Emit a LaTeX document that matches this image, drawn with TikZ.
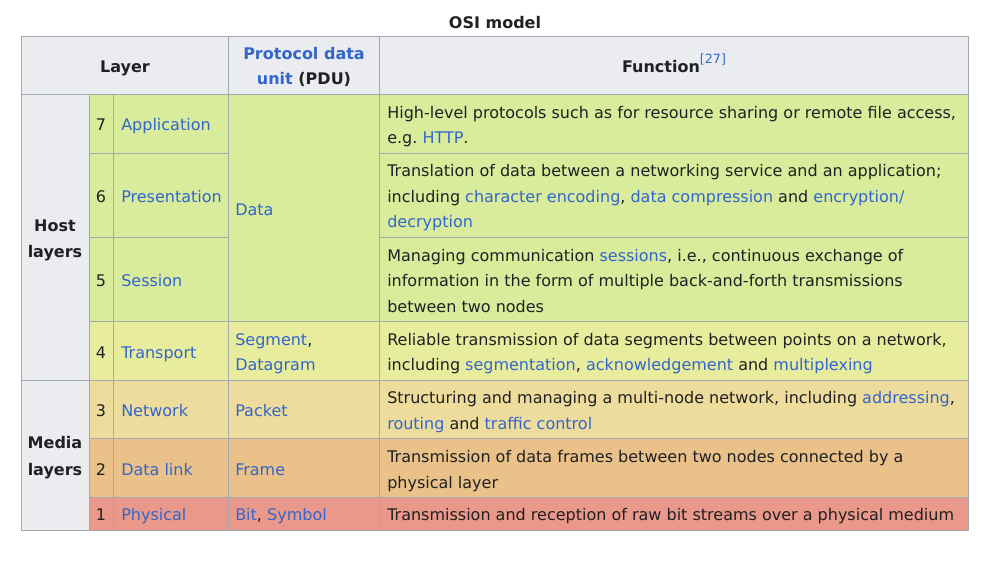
\documentclass[tikz,border=0pt]{standalone}
\usepackage{fontspec}
\setmainfont{DejaVu Sans}
\frenchspacing
\definecolor{hdr}{HTML}{EAECF0}
\definecolor{brd}{HTML}{A2A9B1}
\definecolor{lnk}{HTML}{3366CC}
\definecolor{txt}{HTML}{202122}
\definecolor{cA}{HTML}{D8EC9C}
\definecolor{cB}{HTML}{E7ED9C}
\definecolor{cC}{HTML}{EDDC9C}
\definecolor{cD}{HTML}{E9C189}
\definecolor{cE}{HTML}{E9988A}
\newcommand{\lk}[1]{\textcolor{lnk}{#1}}
\tikzset{
  cell/.style={draw=brd, line width=0.75pt},
  tx/.style={anchor=base west, inner sep=0pt, text=txt, font=\fontsize{12pt}{14pt}\selectfont},
  tc/.style={anchor=base, inner sep=0pt, text=txt, font=\fontsize{12pt}{14pt}\selectfont},
  th/.style={anchor=base, inner sep=0pt, text=txt, font=\fontsize{12pt}{14pt}\selectfont\bfseries},
}
\begin{document}
\begin{tikzpicture}[x=0.75pt,y=-0.75pt]
\useasboundingbox[fill=white] (0,0) rectangle (988,565);
% header
\path[cell, fill=hdr] (21,36) rectangle (228,94);
\path[cell, fill=hdr] (228,36) rectangle (379,94);
\path[cell, fill=hdr] (379,36) rectangle (968,94);
% group cells
\path[cell, fill=hdr] (21,94) rectangle (89,380);
\path[cell, fill=hdr] (21,380) rectangle (89,530);
% rows
\foreach \ya/\yb/\c in {94/153/cA,153/237/cA,237/321/cA,321/380/cB,380/438/cC,438/497/cD,497/530/cE}{
  \path[cell, fill=\c] (89,\ya) rectangle (113,\yb);
  \path[cell, fill=\c] (113,\ya) rectangle (228,\yb);
  \path[cell, fill=\c] (379,\ya) rectangle (968,\yb);
}
\path[cell, fill=cA] (228,94) rectangle (379,321);
\foreach \ya/\yb/\c in {321/380/cB,380/438/cC,438/497/cD,497/530/cE}{
  \path[cell, fill=\c] (228,\ya) rectangle (379,\yb);
}
% title
\node[th] (title) at (495,28) {OSI model};
% header text
\node[th] (hlayer) at (125,72) {Layer};
\node[th] (hpdu1) at (304,59) {\textcolor{lnk}{Protocol data}};
\node[th] (hpdu2) at (304,84) {\textcolor{lnk}{unit} (PDU)};
\node[th] (hfun) at (674,72) {Function\raisebox{6.5pt}{\fontsize{9.5pt}{10pt}\selectfont\mdseries\textcolor{lnk}{[27]}}};
% groups
\node[th] (host1) at (55,231) {Host};
\node[th] (host2) at (55,257) {layers};
\node[th] (media1) at (55,448) {Media};
\node[th] (media2) at (55,475) {layers};
% numbers and names
\node[tc] (n7) at (101,130) {7};
\node[tx] (l7) at (121,130) {\lk{Application}};
\node[tc] (n6) at (101,202) {6};
\node[tx] (l6) at (121,202) {\lk{Presentation}};
\node[tc] (n5) at (101,286) {5};
\node[tx] (l5) at (121,286) {\lk{Session}};
\node[tc] (n4) at (101,358) {4};
\node[tx] (l4) at (121,358) {\lk{Transport}};
\node[tc] (n3) at (101,416) {3};
\node[tx] (l3) at (121,416) {\lk{Network}};
\node[tc] (n2) at (101,475) {2};
\node[tx] (l2) at (121,475) {\lk{Data link}};
\node[tc] (n1) at (101,520) {1};
\node[tx] (l1) at (121,520) {\lk{Physical}};
% PDUs
\node[tx] (pdata) at (235,215) {\lk{Data}};
\node[tx] (pseg) at (235,345) {\lk{Segment},};
\node[tx] (pdgram) at (235,370) {\lk{Datagram}};
\node[tx] (ppkt) at (235,416) {\lk{Packet}};
\node[tx] (pfrm) at (235,475) {\lk{Frame}};
\node[tx] (pbit) at (235,520) {\lk{Bit}, \lk{Symbol}};
% functions
\node[tx] (f7a) at (387,118) {High-level protocols such as for resource sharing or remote file access,};
\node[tx] (f7b) at (387,143) {e.g. \lk{HTTP}.};
\node[tx] (f6a) at (387,176) {Translation of data between a networking service and an application;};
\node[tx] (f6b) at (387,202) {including \lk{character encoding}, \lk{data compression} and \lk{encryption/}};
\node[tx] (f6c) at (387,227) {\lk{decryption}};
\node[tx] (f5a) at (387,261) {Managing communication \lk{sessions}, i.e., continuous exchange of};
\node[tx] (f5b) at (387,286) {information in the form of multiple back-and-forth transmissions};
\node[tx] (f5c) at (387,312) {between two nodes};
\node[tx] (f4a) at (387,345) {Reliable transmission of data segments between points on a network,};
\node[tx] (f4b) at (387,370) {including \lk{segmentation}, \lk{acknowledgement} and \lk{multiplexing}};
\node[tx] (f3a) at (387,403) {Structuring and managing a multi-node network, including \lk{addressing},};
\node[tx] (f3b) at (387,429) {\lk{routing} and \lk{traffic control}};
\node[tx] (f2a) at (387,462) {Transmission of data frames between two nodes connected by a};
\node[tx] (f2b) at (387,488) {physical layer};
\node[tx] (f1a) at (387,520) {Transmission and reception of raw bit streams over a physical medium};
\end{tikzpicture}
\end{document}
